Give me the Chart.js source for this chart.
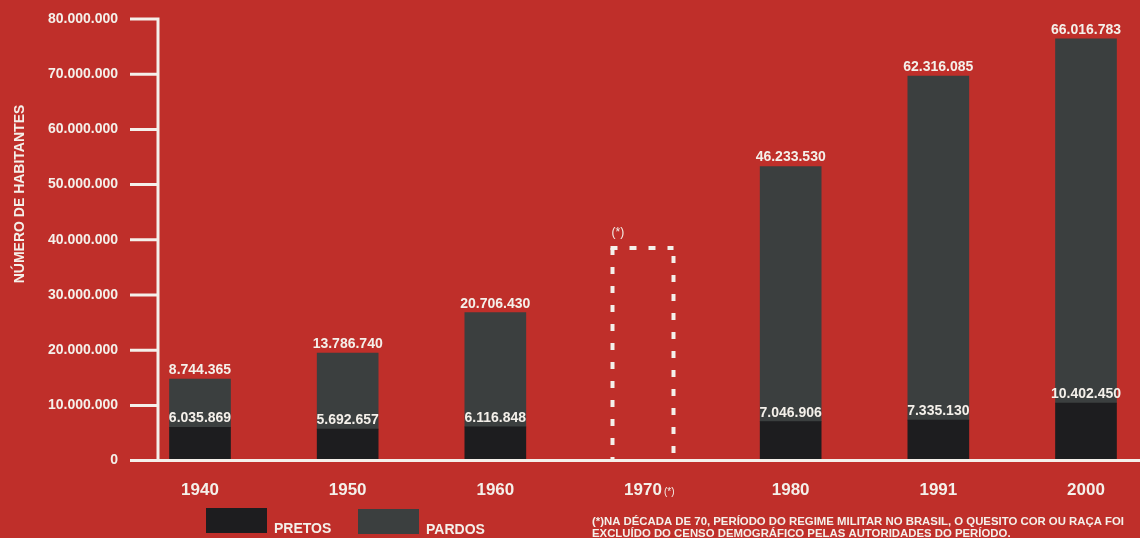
<!DOCTYPE html>
<html lang="pt-BR">
<head>
<meta charset="utf-8">
<title>População preta e parda no Brasil</title>
<script src="https://cdn.jsdelivr.net/npm/chart.js@4/dist/chart.umd.min.js"></script>
<style>
  html, body { margin: 0; padding: 0; background: #bf2f2a; }
  #wrap { width: 1140px; height: 538px; position: relative; }
</style>
</head>
<body>
<div id="wrap"><canvas id="grafico" width="1140" height="538"></canvas></div>
<script>
const anos = ["1940", "1950", "1960", "1970", "1980", "1991", "2000"];
const pretos = [6035869, 5692657, 6116848, null, 7046906, 7335130, 10402450];
const pardos = [8744365, 13786740, 20706430, null, 46233530, 62316085, 66016783];
// 1970: sem dados de cor/raça, só o contorno tracejado
const semDados = [null, null, null, 38500000, null, null, null];
const eixoMax = 80000000;
const eixoPasso = 10000000;
const tituloY = "NÚMERO DE HABITANTES";
const nota = [
    "(*)NA DÉCADA DE 70, PERÍODO DO REGIME MILITAR NO BRASIL, O QUESITO COR OU RAÇA FOI",
    "EXCLUÍDO DO CENSO DEMOGRÁFICO PELAS AUTORIDADES DO PERÍODO."
];

const fonte = "'Liberation Sans', Arial, sans-serif";
const branco = "#f4f0ea";
const corPretos = "#1d1d1f";
const corPardos = "#3b3f3f";

function fmt(v) {
    return String(v).replace(/\B(?=(\d{3})+(?!\d))/g, ".");
}

/* eixos brancos desenhados à mão (linha vertical fica longe da área do gráfico) */
const pluginEixos = {
    id: "eixos",
    afterDatasetsDraw(chart) {
        const { ctx } = chart;
        const y = chart.scales.y;
        const x0 = 158;
        const base = y.getPixelForValue(0);
        const topo = y.getPixelForValue(y.max);
        ctx.save();
        ctx.strokeStyle = branco;
        ctx.lineWidth = 3;
        ctx.beginPath();
        ctx.moveTo(x0, topo - 1.5);
        ctx.lineTo(x0, base);
        y.ticks.forEach(t => {
            const py = y.getPixelForValue(t.value);
            ctx.moveTo(130, py);
            ctx.lineTo(x0 + 1.5, py);
        });
        ctx.moveTo(130, base);
        ctx.lineTo(chart.width, base);
        ctx.stroke();

        // título do eixo Y
        ctx.fillStyle = branco;
        ctx.font = "bold 14px " + fonte;
        ctx.textAlign = "center";
        ctx.textBaseline = "middle";
        ctx.translate(20, 194);
        ctx.rotate(-Math.PI / 2);
        ctx.fillText(tituloY, 0, 0);
        ctx.restore();
    }
};

/* valores em cima das barras + barra tracejada de 1970 */
const pluginRotulos = {
    id: "rotulos",
    afterDatasetsDraw(chart) {
        const { ctx } = chart;
        const mPretos = chart.getDatasetMeta(0);
        const mPardos = chart.getDatasetMeta(1);
        const mSem = chart.getDatasetMeta(2);
        ctx.save();
        ctx.fillStyle = branco;
        ctx.textAlign = "center";
        ctx.textBaseline = "alphabetic";
        ctx.font = "bold 14px " + fonte;
        anos.forEach((a, i) => {
            if (pardos[i] != null) {
                const bp = mPardos.data[i];
                ctx.fillText(fmt(pardos[i]), bp.x, bp.y - 5);
            }
            if (pretos[i] != null) {
                const bq = mPretos.data[i];
                ctx.fillText(fmt(pretos[i]), bq.x, bq.y - 5);
            }
            if (semDados[i] != null) {
                const b = mSem.data[i];
                const esq = b.x - b.width / 2;
                const dir = b.x + b.width / 2;
                ctx.save();
                ctx.strokeStyle = branco;
                ctx.lineWidth = 4;
                ctx.setLineDash([7, 12]);
                // topo e lados tracejados, cada um começando no canto
                [[esq - 2, b.y, dir, b.y], [esq, b.y, esq, b.base], [dir, b.y + 8, dir, b.base]].forEach(l => {
                    ctx.beginPath();
                    ctx.moveTo(l[0], l[1]);
                    ctx.lineTo(l[2], l[3]);
                    ctx.stroke();
                });
                ctx.restore();
                ctx.font = "12px " + fonte;
                ctx.textAlign = "left";
                ctx.fillText("(*)", esq - 1, b.y - 12);
                // marca (*) ao lado do ano no eixo X
                const x = chart.scales.x;
                ctx.font = "bold 17px " + fonte;
                const w = ctx.measureText(anos[i]).width;
                ctx.font = "10px " + fonte;
                ctx.fillText("(*)", b.x + w / 2 + 2, x.top + 34);
                ctx.font = "bold 14px " + fonte;
                ctx.textAlign = "center";
            }
        });
        ctx.restore();
    }
};

/* legenda e nota de rodapé */
const pluginLegenda = {
    id: "legendaNota",
    afterDraw(chart) {
        const { ctx } = chart;
        const ds = chart.data.datasets;
        const itens = [
            { ds: ds[0], x: 206, y: 508 },
            { ds: ds[1], x: 358, y: 509 }
        ];
        ctx.save();
        ctx.font = "bold 14px " + fonte;
        ctx.textBaseline = "alphabetic";
        ctx.textAlign = "left";
        itens.forEach(it => {
            ctx.fillStyle = it.ds.backgroundColor;
            ctx.fillRect(it.x, it.y, 61, 25);
            ctx.fillStyle = branco;
            ctx.fillText(it.ds.label, it.x + 68, it.y + 25);
        });

        ctx.font = "bold 11px " + fonte;
        const escala = 532 / ctx.measureText(nota[0]).width;
        ctx.translate(592, 0);
        ctx.scale(escala, 1);
        ctx.fillText(nota[0], 0, 525);
        ctx.fillText(nota[1], 0, 537);
        ctx.restore();
    }
};

new Chart(document.getElementById("grafico"), {
    type: "bar",
    data: {
        labels: anos,
        datasets: [
            { label: "PRETOS", data: pretos, backgroundColor: corPretos, barThickness: 61, clip: false },
            { label: "PARDOS", data: pardos, backgroundColor: corPardos, barThickness: 61, clip: false },
            { label: "(*)", data: semDados, backgroundColor: "rgba(0,0,0,0)", barThickness: 61, clip: false }
        ]
    },
    options: {
        responsive: false,
        animation: false,
        devicePixelRatio: 1,
        layout: { padding: { left: 8, right: 54, top: 19, bottom: 17 } },
        plugins: {
            legend: { display: false },
            tooltip: { enabled: false }
        },
        scales: {
            x: {
                stacked: true,
                offset: false,
                grid: { display: false, drawTicks: false, tickLength: 0 },
                border: { display: false },
                ticks: {
                    color: branco,
                    padding: 20,
                    font: { family: fonte, size: 17, weight: "bold" },
                    maxRotation: 0
                }
            },
            y: {
                stacked: true,
                min: 0,
                max: eixoMax,
                grid: { display: true, drawOnChartArea: false, drawTicks: true, tickLength: 76, color: "rgba(0,0,0,0)" },
                border: { display: false },
                afterFit(scale) { scale.width = 192; },
                ticks: {
                    stepSize: eixoPasso,
                    color: branco,
                    padding: 6,
                    font: { family: fonte, size: 14, weight: "bold" },
                    callback: v => fmt(v)
                }
            }
        }
    },
    plugins: [pluginEixos, pluginRotulos, pluginLegenda]
});
</script>
</body>
</html>
